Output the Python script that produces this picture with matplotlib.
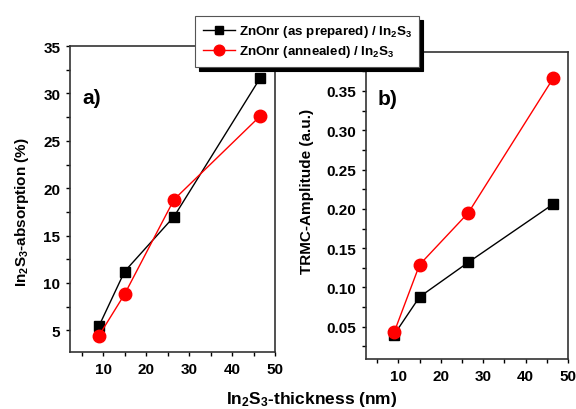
import matplotlib
matplotlib.use("Agg")
import matplotlib.pyplot as plt
from matplotlib.ticker import MultipleLocator

plt.rcParams['font.family'] = ['Liberation Sans', 'DejaVu Sans']
plt.rcParams['font.weight'] = 'bold'
plt.rcParams['axes.labelweight'] = 'bold'
plt.rcParams['mathtext.fontset'] = 'custom'
plt.rcParams['mathtext.rm'] = 'Liberation Sans:bold'
plt.rcParams['mathtext.it'] = 'Liberation Sans:bold'
plt.rcParams['mathtext.bf'] = 'Liberation Sans:bold'
plt.rcParams['mathtext.default'] = 'rm'

thickness = [9, 15, 26.5, 46.5]
abs_prepared = [5.4, 11.2, 17.0, 31.6]
abs_annealed = [4.4, 8.8, 18.8, 27.6]
trmc_prepared = [0.040, 0.088, 0.132, 0.206]
trmc_annealed = [0.043, 0.129, 0.195, 0.366]

label_prep = r'ZnOnr (as prepared) / In$_2$S$_3$'
label_ann = r'ZnOnr (annealed) / In$_2$S$_3$'

fig = plt.figure(figsize=(5.76, 4.10), dpi=100)
axa = fig.add_axes([0.1215, 0.139, 0.356, 0.746])
axb = fig.add_axes([0.635, 0.122, 0.351, 0.7495])

for ax, yp, ya in ((axa, abs_prepared, abs_annealed), (axb, trmc_prepared, trmc_annealed)):
    ax.plot(thickness, yp, color='black', lw=1.0, marker='s', ms=7.5, mfc='black', mec='black', label=label_prep)
    ax.plot(thickness, ya, color='red', lw=1.0, marker='o', ms=9, mfc='red', mec='red', label=label_ann)
    ax.set_xlim(2.3, 50)
    ax.xaxis.set_major_locator(MultipleLocator(10))
    ax.xaxis.set_minor_locator(MultipleLocator(5))
    ax.tick_params(which='both', direction='out', length=3, width=1, top=False, right=False,
                   labelsize=11, pad=4)
    for s in ax.spines.values():
        s.set_linewidth(1.2)
        s.set_color('#333333')

axa.set_ylim(2.7, 35)
axa.yaxis.set_major_locator(MultipleLocator(5))
axa.yaxis.set_minor_locator(MultipleLocator(2.5))
axa.set_ylabel(r'In$_2$S$_3$-absorption (%)', fontsize=11)
axa.yaxis.set_label_coords(-0.19, 0.46)
axa.text(0.06, 0.815, 'a)', transform=axa.transAxes, fontsize=15, fontweight='bold')

axb.set_ylim(0.009, 0.40)
axb.yaxis.set_major_locator(MultipleLocator(0.05))
axb.yaxis.set_minor_locator(MultipleLocator(0.025))
axb.set_ylabel('TRMC-Amplitude (a.u.)', fontsize=11)
axb.yaxis.set_label_coords(-0.255, 0.547)
axb.text(0.06, 0.83, 'b)', transform=axb.transAxes, fontsize=15, fontweight='bold')

fig.text(0.541, 0.025, r'In$_2$S$_3$-thickness (nm)', ha='center', va='center', fontsize=12.5, fontweight='bold')

handles, labels = axa.get_legend_handles_labels()
leg = fig.legend(handles, labels, loc='upper left', bbox_to_anchor=(0.339, 0.9585), borderaxespad=0,
                 frameon=True, fancybox=False, shadow={'color': 'black', 'alpha': 1, 'ox': 3, 'oy': -3},
                 fontsize=9.6, borderpad=0.55, handlelength=2.4, handletextpad=0.3, labelspacing=0.3,
                 markerscale=0.85)
leg.get_frame().set_edgecolor('#555555')
leg.get_frame().set_linewidth(0.8)

fig.savefig('out.png', dpi=100)
